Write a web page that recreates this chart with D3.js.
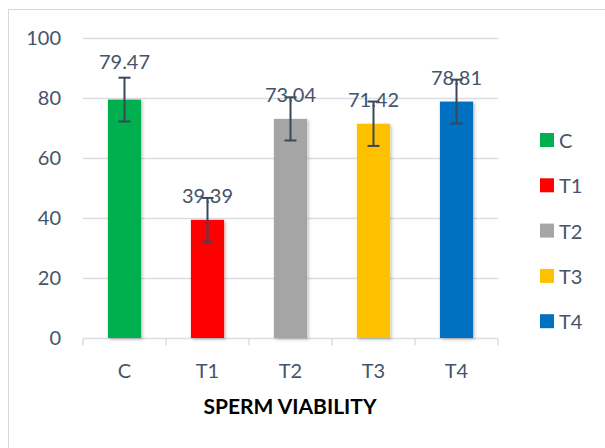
<!DOCTYPE html>
<html>
<head>
	<meta charset="utf-8">
	<title>Sperm Viability</title>
	<script type="text/javascript" src="https://d3js.org/d3.v7.min.js"></script>
	<style type="text/css">
		body { margin: 0; background: #fff; }
		.axis text, .lbl, .legend text {
			font-family: Lato, "Open Sans", sans-serif;
			font-size: 20px;
			fill: #44546A;
		}
		.axis path, .axis line { stroke: #D9DDE3; }
	</style>
</head>
<body>
	<script type="text/javascript">
		// data
		var groups = ["C", "T1", "T2", "T3", "T4"];
		var viability = [79.47, 39.39, 73.04, 71.42, 78.81];
		var errors = [7.3, 7.3, 7.2, 7.4, 7.3];
		var colors = ["#00B050", "#FF0000", "#A5A5A5", "#FFC000", "#0070C0"];
		var yTicks = [0, 20, 40, 60, 80, 100];

		var outer_width = 605;
		var outer_height = 448;

		var dataset = groups.map(function(g, i){
			return {group: g, value: viability[i], err: errors[i], color: colors[i]};
		});

		var svg = d3.select("body")
					.append("svg")
					.attr("width", outer_width)
					.attr("height", outer_height);

		// soft shadow like the excel bars
		var f = svg.append("defs").append("filter")
					.attr("id", "shadow")
					.attr("x", "-20%").attr("y", "-5%")
					.attr("width", "150%").attr("height", "115%");
		f.append("feDropShadow")
			.attr("dx", 1.5).attr("dy", 1.5)
			.attr("stdDeviation", 1.5)
			.attr("flood-color", "#000")
			.attr("flood-opacity", 0.25);

		// chart frame
		svg.append("rect")
			.attr("x", 8.5).attr("y", 9.5)
			.attr("width", 640).attr("height", 480)
			.style("fill", "none")
			.style("stroke", "#D9D9D9");

		var xScale = d3.scaleBand()
						.domain(groups)
						.range([83, 498])
						.paddingInner(0.6)
						.paddingOuter(0.3);

		var yScale = d3.scaleLinear()
						.domain([0, 100])
						.range([338, 38]);

		// gridlines
		svg.append("g")
			.selectAll("line")
			.data(yTicks.filter(function(t){ return t > 0; }))
			.enter()
			.append("line")
			.attr("x1", 83).attr("x2", 498)
			.attr("y1", function(d){ return yScale(d) + 0.5; })
			.attr("y2", function(d){ return yScale(d) + 0.5; })
			.style("stroke", "#D9DDE3")
			.style("stroke-width", 1.5);

		var yaxis = d3.axisLeft(yScale)
						.tickValues(yTicks)
						.tickSize(0)
						.tickPadding(22);

		svg.append("g")
			.attr("class", "axis")
			.attr("transform", "translate(83,0)")
			.call(yaxis)
			.call(function(g){ g.select(".domain").remove(); });

		// x axis with tick marks between the categories
		var xg = svg.append("g")
					.attr("class", "axis")
					.attr("transform", "translate(0,338.5)");
		xg.append("line")
			.attr("x1", 83).attr("x2", 498)
			.style("stroke", "#D9DDE3").style("stroke-width", 1.5);
		var edges = groups.map(function(g){ return xScale(g) - xScale.step() * 0.3; });
		edges.push(498);
		xg.selectAll(".tk")
			.data(edges)
			.enter()
			.append("line")
			.attr("class", "tk")
			.attr("x1", function(d){ return d; })
			.attr("x2", function(d){ return d; })
			.attr("y1", 0).attr("y2", 7)
			.style("stroke", "#D9DDE3").style("stroke-width", 1.5);
		xg.selectAll("text")
			.data(groups)
			.enter()
			.append("text")
			.attr("x", function(d){ return xScale(d) + xScale.bandwidth() / 2; })
			.attr("y", 39)
			.attr("text-anchor", "middle")
			.text(function(d){ return d; });

		// bars
		svg.append("g")
			.selectAll("rect")
			.data(dataset)
			.enter()
			.append("rect")
			.attr("x", function(d){ return xScale(d.group); })
			.attr("width", xScale.bandwidth())
			.attr("y", function(d){ return yScale(d.value); })
			.attr("height", function(d){ return yScale(0) - yScale(d.value); })
			.style("fill", function(d){ return d.color; })
			.attr("filter", "url(#shadow)");

		// error bars
		var eb = svg.append("g")
					.selectAll("g")
					.data(dataset)
					.enter()
					.append("g")
					.attr("transform", function(d){ return "translate(" + (xScale(d.group) + xScale.bandwidth() / 2) + ",0)"; })
					.style("stroke", "#3B4658")
					.style("stroke-width", 2);
		eb.append("line")
			.attr("y1", function(d){ return yScale(d.value + d.err); })
			.attr("y2", function(d){ return yScale(d.value - d.err); });
		eb.append("line")
			.attr("x1", -6).attr("x2", 6)
			.attr("y1", function(d){ return yScale(d.value + d.err); })
			.attr("y2", function(d){ return yScale(d.value + d.err); });
		eb.append("line")
			.attr("x1", -6).attr("x2", 6)
			.attr("y1", function(d){ return yScale(d.value - d.err); })
			.attr("y2", function(d){ return yScale(d.value - d.err); });

		// value labels (the C label was lifted clear of its error bar)
		var lift = {C: 31};
		svg.append("g")
			.selectAll("text")
			.data(dataset)
			.enter()
			.append("text")
			.attr("class", "lbl")
			.attr("x", function(d){ return xScale(d.group) + xScale.bandwidth() / 2; })
			.attr("y", function(d){ return yScale(d.value) - (lift[d.group] || 17); })
			.attr("text-anchor", "middle")
			.text(function(d){ return d.value.toFixed(2); });

		// legend
		var lg = svg.append("g")
					.attr("class", "legend")
					.selectAll("g")
					.data(dataset)
					.enter()
					.append("g")
					.attr("transform", function(d, i){ return "translate(540," + (133 + i * 45.3) + ")"; });
		lg.append("rect")
			.attr("width", 14).attr("height", 14)
			.style("fill", function(d){ return d.color; });
		lg.append("text")
			.attr("x", 19).attr("y", 15)
			.text(function(d){ return d.group; });

		svg.append("text")
			.attr("x", 290).attr("y", 414)
			.attr("text-anchor", "middle")
			.style("font-family", "Lato, sans-serif")
			.style("font-weight", "bold")
			.style("font-size", "21px")
			.style("fill", "#000")
			.text("SPERM VIABILITY");
	</script>
</body>
</html>
